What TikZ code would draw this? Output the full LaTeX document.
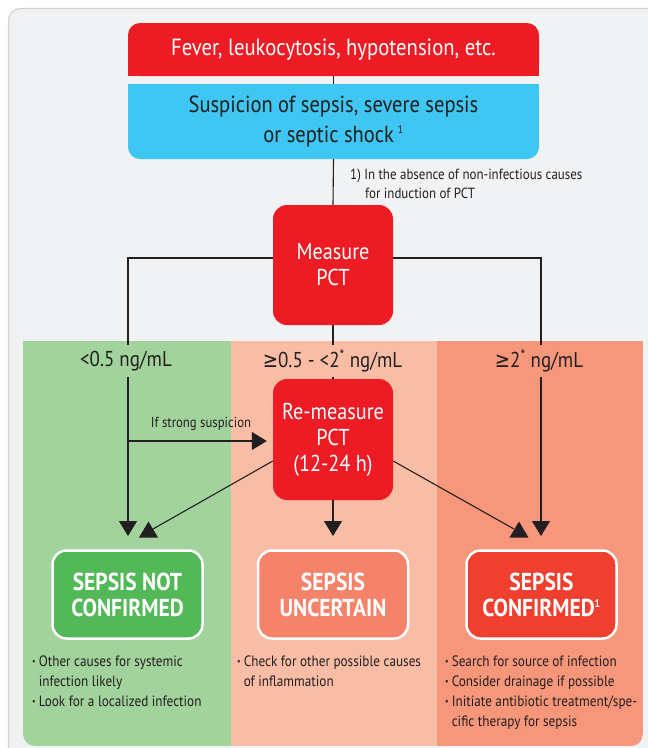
\documentclass[tikz,border=0pt]{standalone}
\usepackage{fontspec}
\setmainfont{PT Sans}[FakeStretch=0.88]
\newfontfamily\symf{DejaVu Sans}[FakeStretch=0.85]
\usetikzlibrary{arrows.meta}
\definecolor{redc}{HTML}{ED1C24}
\definecolor{bluec}{HTML}{40C6F2}
\definecolor{gband}{HTML}{A3D39C}
\definecolor{mband}{HTML}{F9BDA5}
\definecolor{rband}{HTML}{F6967A}
\definecolor{gbox}{HTML}{52B858}
\definecolor{ubox}{HTML}{F4836A}
\definecolor{cbox}{HTML}{EF3F2E}
\definecolor{textc}{HTML}{231F20}
\definecolor{panel}{HTML}{F1F2F4}
\definecolor{panelb}{HTML}{D2D2D2}
\newcommand\fs[2]{\fontsize{#1}{#2}\selectfont}
\newcommand\gq{{\symf ≥}}
\newcommand\bu{\raisebox{1.5pt}{\fs{9}{9}•}}
\begin{document}
\begin{tikzpicture}[x=1pt,y=-1pt,
  conn/.style={draw=textc,line width=1.1pt},
  tri/.style={-{Triangle[length=15pt,width=18pt]}},
  redbox/.style={fill=redc,text=white,rounded corners=14pt,minimum width=120pt,align=center,font=\fs{23}{26},inner sep=0pt},
  topbox/.style={rounded corners=12pt,minimum width=411pt,align=center,inner sep=0pt},
  lbl/.style={font=\fs{21.5}{22},text=textc,inner xsep=2pt,minimum height=32pt},
  res/.style={draw=white,line width=2.5pt,rounded corners=14pt,minimum width=150pt,minimum height=88pt,text=white,font=\bfseries\fs{24.5}{26},align=center,inner sep=0pt},
  bul/.style={anchor=base west,font=\fs{15}{20},text=textc,inner sep=0pt},
  note/.style={font=\fs{14.7}{19},text=textc,inner sep=0pt}]
\useasboundingbox (0,0) rectangle (648,748);
\fill[white] (0,0) rectangle (648,748);
\filldraw[fill=panel,draw=panelb,line width=1.2pt,rounded corners=12pt] (8.5,8.5) rectangle (700,800);
\begin{scope}
  \clip[rounded corners=12pt] (23,300) rectangle (643,746);
  \fill[gband] (23,341) rectangle (231,746);
  \fill[mband] (231,341) rectangle (437,746);
  \fill[rband] (437,341) rectangle (643,746);
\end{scope}
% top boxes
\fill[redc] (128,50) rectangle (539,76);
\node[topbox,fill=redc,text=white,minimum height=53pt,font=\fs{23.5}{26}] (fever) at (333.5,49.5) {Fever, leukocytosis, hypotension, etc.};
\fill[bluec] (128,84) rectangle (539,120);
\node[topbox,fill=bluec,text=textc,minimum height=75pt,font=\fs{23.3}{30}] (susp) at (333.5,121.5) {Suspicion of sepsis, severe sepsis\\or septic shock\,\textsuperscript{\fs{11}{11}1}};
\node[note,anchor=base west,align=left] (fn) at (350,198) {1) In the absence of non-infectious causes\\\hspace*{15pt}for induction of PCT};
% measure boxes
\node[redbox,minimum height=120pt] (meas) at (333,265) {Measure\\PCT};
\node[redbox,minimum height=121pt] (rm) at (333,439.5) {Re-measure\\PCT\\(12-24 h)};
% result boxes
\node[res,fill=gbox] (gres) at (127.5,594.5) {SEPSIS NOT\\CONFIRMED};
\node[res,fill=ubox] (ures) at (333,594.5) {SEPSIS\\UNCERTAIN};
\node[res,fill=cbox] (cres) at (541.5,594.5) {SEPSIS\\CONFIRMED\textsuperscript{\fs{11}{11}1}};
% coordinates
\coordinate (tipA) at (128,536);
\coordinate (tipC) at (541,536);
\coordinate (tipU) at (333,536);
\coordinate (br) at (128,441);
\coordinate (dL) at (153,529);
\coordinate (dR) at (514,529);
\coordinate (aL) at (148.5,537.5);
\coordinate (aR) at (519,537.5);
% connectors
\draw[conn] (fever.south) -- (susp.north);
\draw[conn] (susp.south) -- (meas.north);
\draw[conn,tri] ([yshift=7pt]meas.west) -| (tipA);
\draw[conn,tri] ([yshift=7pt]meas.east) -| (tipC);
\draw[conn] (meas.south) -- (rm.north);
\draw[conn,tri] (rm.south) -- (tipU);
\draw[conn,tri,shorten >=6pt] (br) -- (rm.west |- br);
\draw[conn] ([yshift=-21.5pt]rm.west) -- (dL);
\draw[conn] ([yshift=-21.5pt]rm.east) -- (dR);
\fill[textc] (aL) ++(-9.5,0) -- ++(19,0) -- ++(-9.5,-16) -- cycle;
\fill[textc] (aR) ++(-9.5,0) -- ++(19,0) -- ++(-9.5,-16) -- cycle;
\node[note,font=\fs{14.5}{16}] (strong) at (201,424) {If strong suspicion};
% band labels
\node[lbl,fill=gband] (l1) at (126,361) {<0.5 ng/mL};
\node[lbl,fill=mband] (l2) at (332.5,361) {\gq0.5 - <2\textsuperscript{*} ng/mL};
\node[lbl,fill=rband] (l3) at (539,361) {\gq2\textsuperscript{*} ng/mL};
% bullets
\node[bul] (bL) at (32,666) {\begin{tabular}[t]{@{}l@{\hspace{3pt}}l@{}}\bu&Other causes for systemic\\&infection likely\\\bu&Look for a localized infection\end{tabular}};
\node[bul] (bM) at (237,666) {\begin{tabular}[t]{@{}l@{\hspace{3pt}}l@{}}\bu&Check for other possible causes\\&of inflammation\end{tabular}};
\node[bul] (bR) at (445,666) {\begin{tabular}[t]{@{}l@{\hspace{3pt}}l@{}}\bu&Search for source of infection\\\bu&Consider drainage if possible\\\bu&Initiate antibiotic treatment/spe-\\&cific therapy for sepsis\end{tabular}};
\end{tikzpicture}
\end{document}
